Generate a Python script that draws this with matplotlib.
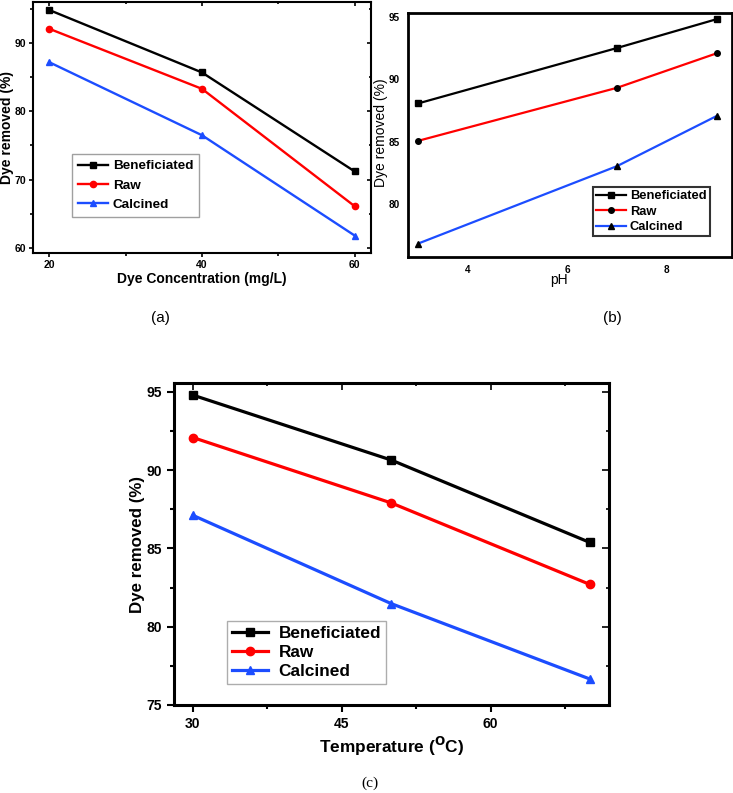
import matplotlib
matplotlib.use("Agg")
import matplotlib.pyplot as plt
from matplotlib.ticker import AutoMinorLocator

plt.rcParams['font.family'] = ['Liberation Sans', 'DejaVu Sans']

series_names = ['Beneficiated', 'Raw', 'Calcined']
colors = ['black', '#ff0000', '#1c4dff']
markers = ['s', 'o', '^']

# (a) dye concentration
conc = [20, 40, 60]
conc_ben = [94.85, 85.7, 71.2]
conc_raw = [92.1, 83.3, 66.1]
conc_cal = [87.2, 76.5, 61.8]

# (b) pH
ph = [3, 7, 9]
ph_ben = [88.07, 92.5, 94.8]
ph_raw = [85.08, 89.32, 92.07]
ph_cal = [76.87, 83.06, 87.06]

# (c) temperature
temp = [30, 50, 70]
temp_ben = [94.79, 90.64, 85.38]
temp_raw = [92.08, 87.9, 82.7]
temp_cal = [87.11, 81.47, 76.66]

fig = plt.figure(figsize=(7.33, 7.93), dpi=100)


def mirror_ticks(ax, xminor, yminor, size):
    # Origin style: outward ticks bottom/left, inward mirrored ticks top/right
    top = ax.secondary_xaxis('top')
    right = ax.secondary_yaxis('right')
    top.set_xticks(ax.get_xticks())
    right.set_yticks(ax.get_yticks())
    if xminor:
        top.xaxis.set_minor_locator(AutoMinorLocator(xminor))
    if yminor:
        right.yaxis.set_minor_locator(AutoMinorLocator(yminor))
    top.tick_params(which='major', direction='in', length=size, width=1.2, labeltop=False)
    top.tick_params(which='minor', direction='in', length=size * 0.5, width=1.2)
    right.tick_params(which='major', direction='in', length=size, width=1.2, labelright=False)
    right.tick_params(which='minor', direction='in', length=size * 0.5, width=1.2)
    top.spines['top'].set_visible(False)
    right.spines['right'].set_visible(False)


# ---------- (a) ----------
ax1 = fig.add_axes([0.0454, 0.6806, 0.4603, 0.3175])
for y, c, m, n in zip([conc_ben, conc_raw, conc_cal], colors, markers, series_names):
    ax1.plot(conc, y, color=c, marker=m, lw=1.7, ms=4.5, label=n)
ax1.set_xlim(17.9, 62.1)
ax1.set_ylim(59.2, 96.1)
ax1.set_xticks([20, 40, 60])
ax1.set_yticks([60, 70, 80, 90])
ax1.xaxis.set_minor_locator(AutoMinorLocator(2))
ax1.yaxis.set_minor_locator(AutoMinorLocator(2))
ax1.tick_params(which='major', direction='out', length=3, width=1.2, labelsize=7.5, pad=2)
ax1.tick_params(which='minor', direction='out', length=2, width=1.2)
for lab in ax1.get_xticklabels() + ax1.get_yticklabels():
    lab.set_fontweight('bold')
for s in ax1.spines.values():
    s.set_linewidth(1.5)
mirror_ticks(ax1, 2, 2, 3)
ax1.set_xlabel('Dye Concentration (mg/L)', fontsize=10, fontweight='bold', labelpad=1)
ax1.set_ylabel('Dye removed (%)', fontsize=10, fontweight='bold')
ax1.yaxis.set_label_coords(-0.058, 0.5)
leg1 = ax1.legend(loc='upper left', bbox_to_anchor=(0.098, 0.806), bbox_transform=fig.transFigure,
                  borderaxespad=0, fancybox=False, edgecolor='#888888', handlelength=2.2,
                  prop={'size': 9.7, 'weight': 'bold'}, borderpad=0.45, labelspacing=0.5,
                  handletextpad=0.4)
leg1.get_frame().set_linewidth(1.0)

# ---------- (b) ----------
ax2 = fig.add_axes([0.557, 0.676, 0.4416, 0.308])
for y, c, m, n in zip([ph_ben, ph_raw, ph_cal], colors, markers, series_names):
    mc = 'black'
    ax2.plot(ph, y, color=c, marker=m, lw=1.6, ms=4, mfc=mc, mec=mc, label=n)
ax2.set_xlim(2.8, 9.31)
ax2.set_ylim(75.8, 95.32)
ax2.set_xticks([4, 6, 8])
ax2.set_yticks([80, 85, 90, 95])
ax2.tick_params(length=0, labelsize=7.2, pad=6)
for lab in ax2.get_xticklabels() + ax2.get_yticklabels():
    lab.set_fontweight('bold')
for s in ax2.spines.values():
    s.set_linewidth(2.0)
ax2.set_xlabel('pH', fontsize=10)
ax2.xaxis.set_label_coords(0.466, -0.065)
ax2.set_ylabel('Dye removed (%)', fontsize=10)
ax2.yaxis.set_label_coords(-0.062, 0.51)
leg2 = ax2.legend(loc='upper left', bbox_to_anchor=(0.809, 0.764), bbox_transform=fig.transFigure,
                  borderaxespad=0, fancybox=False, edgecolor='black', handlelength=2.3,
                  prop={'size': 9.3, 'weight': 'bold'}, borderpad=0.25, labelspacing=0.26,
                  handletextpad=0.3)
leg2.get_frame().set_linewidth(1.5)

# ---------- (c) ----------
ax3 = fig.add_axes([0.2367, 0.111, 0.5946, 0.4056])
for y, c, m, n in zip([temp_ben, temp_raw, temp_cal], colors, markers, series_names):
    ax3.plot(temp, y, color=c, marker=m, lw=2.3, ms=6, label=n)
ax3.set_xlim(28.05, 71.97)
ax3.set_ylim(75, 95.54)
ax3.set_xticks([30, 45, 60])
ax3.set_yticks([75, 80, 85, 90, 95])
ax3.xaxis.set_minor_locator(AutoMinorLocator(2))
ax3.yaxis.set_minor_locator(AutoMinorLocator(2))
ax3.tick_params(which='major', direction='out', length=5, width=1.5, labelsize=10)
ax3.tick_params(which='minor', direction='out', length=3, width=1.5)
for lab in ax3.get_xticklabels() + ax3.get_yticklabels():
    lab.set_fontweight('bold')
for s in ax3.spines.values():
    s.set_linewidth(2.2)
mirror_ticks(ax3, 2, 2, 5)
ax3.set_xlabel('Temperature ($\\mathbf{^{O}}$C)', fontsize=12.4, fontweight='bold', labelpad=3)
ax3.set_ylabel('Dye removed (%)', fontsize=12.2, fontweight='bold')
ax3.yaxis.set_label_coords(-0.065, 0.5)
leg3 = ax3.legend(loc='upper left', bbox_to_anchor=(0.3097, 0.2169), bbox_transform=fig.transFigure,
                  borderaxespad=0, fancybox=False, edgecolor='#999999', handlelength=2.1,
                  prop={'size': 12.4, 'weight': 'bold'}, borderpad=0.3, labelspacing=0.22,
                  handletextpad=0.6)
leg3.get_frame().set_linewidth(1.0)

# captions
fig.text(160 / 733, 1 - 318 / 793, '(a)', ha='center', va='center', fontsize=11,
         family=['Liberation Sans Narrow', 'Liberation Sans', 'DejaVu Sans'])
fig.text(612 / 733, 1 - 318 / 793, '(b)', ha='center', va='center', fontsize=11,
         family=['Liberation Sans Narrow', 'Liberation Sans', 'DejaVu Sans'])
fig.text(370 / 733, 1 - 783 / 793, '(c)', ha='center', va='center', fontsize=11,
         family=['Liberation Serif', 'DejaVu Serif'])

fig.savefig('out.png', dpi=100)
